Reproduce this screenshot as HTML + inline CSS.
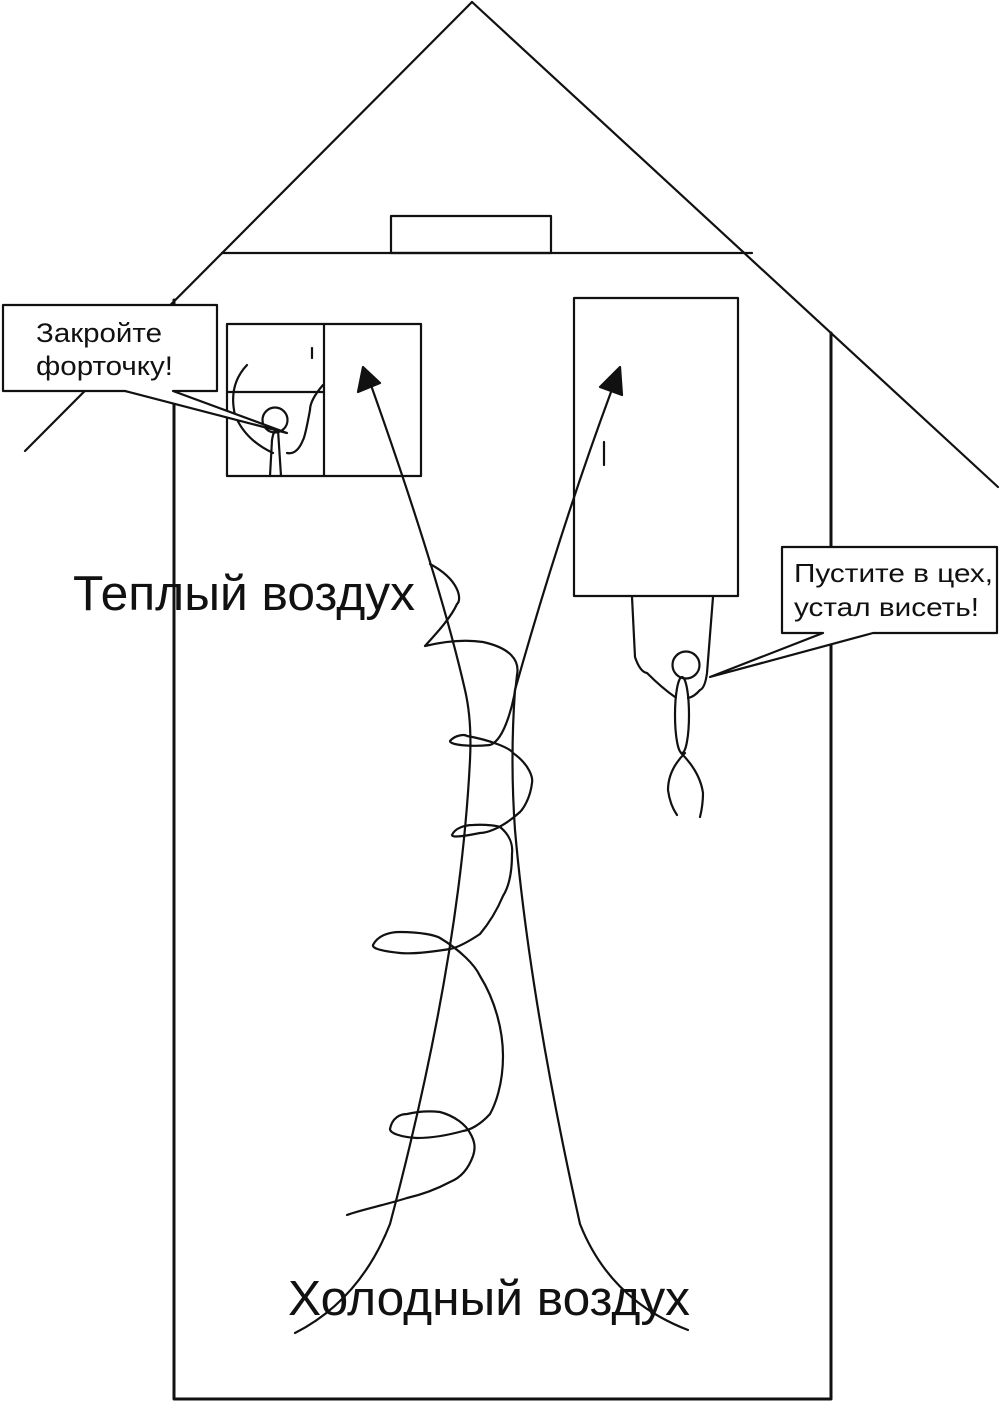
<!DOCTYPE html>
<html><head><meta charset="utf-8"><style>
html,body{margin:0;padding:0;background:#fff}
svg{display:block}
text{font-family:"Liberation Sans",Arial,sans-serif;fill:#111}
</style></head><body>
<svg width="1001" height="1401" viewBox="0 0 1001 1401" xmlns="http://www.w3.org/2000/svg">
<g fill="none" stroke="#111" stroke-width="2.2" stroke-linecap="round" stroke-linejoin="round">
<line x1="472" y1="2" x2="25" y2="451"/>
<line x1="472" y1="2" x2="998" y2="487"/>
<line x1="222" y1="253" x2="752" y2="253"/>
<rect x="391" y="216" width="160" height="37"/>
<polyline points="174,300 174,1399 831,1399 831,333" stroke-width="3"/>
<rect x="227" y="324" width="194" height="152"/>
<line x1="324" y1="324" x2="324" y2="476"/>
<line x1="227" y1="392" x2="324" y2="392"/>
<line x1="312" y1="348" x2="312" y2="358"/>
<rect x="574" y="298" width="164" height="298"/>
<line x1="604" y1="442" x2="604" y2="465"/>
<circle cx="275" cy="420" r="12.5" fill="#fff"/>
<path d="M270,476 L272,440 Q274,428 278,430 L281,476"/>
<path d="M247,365 Q228,385 235,415 Q245,440 273,453"/>
<path d="M323,385 Q310,400 310,410 Q305,437 303,440 Q297,455 287,453"/>
<path d="M632,597 L635,657 Q640,672 647,673 Q662,688 675,697"/>
<path d="M713,597 L707,673 Q705,688 700,690 Q694,697 688,698"/>
<circle cx="686" cy="665" r="13.5" fill="#fff"/>
<ellipse cx="682" cy="715" rx="7" ry="38"/>
<path d="M685,753 Q668,770 668,790 Q670,805 677,815"/>
<path d="M681,753 Q700,772 703,793 Q703,805 700,817"/>
<path d="M372,388 Q440,580 465,690 Q472,720 470,760 Q460,960 390,1224 Q360,1300 295,1333"/>
<polygon points="363,367 358,392 380,383" fill="#111"/>
<path d="M611,392 Q560,530 515,690 Q510,760 515,830 Q530,1000 580,1224 Q610,1300 688,1330"/>
<polygon points="620,367 600,387 622,395" fill="#111"/>
<path d="M430,564 C460,580 462,600 457,604 C450,620 430,640 425,646 C450,640 470,640 483,642 C510,648 520,660 517,675 C515,700 505,740 490,745 C470,747 450,745 450,741 C455,735 465,734 467,736 C490,740 510,748 513,753 C530,765 533,778 532,783 C530,800 522,810 520,812 C500,830 485,833 480,833 C465,836 452,838 452,835 C455,828 465,825 473,825 C485,824 498,826 500,827 C510,835 513,845 512,854 C512,875 508,888 503,896 C495,915 485,928 480,934 C465,944 455,948 450,949 C425,953 410,954 400,953 C380,951 372,948 373,945 C378,935 390,932 400,932 C420,932 435,935 440,938 C460,950 475,965 480,976 C495,1000 503,1030 503,1056 C503,1085 495,1105 490,1114 C480,1125 470,1130 463,1131 C445,1136 430,1138 417,1138 C400,1137 390,1133 390,1129 C392,1118 400,1114 407,1114 C420,1111 432,1111 440,1112 C455,1116 466,1125 470,1133 C476,1143 475,1150 473,1156 C468,1170 460,1178 450,1182 C435,1190 420,1195 407,1198 C385,1205 360,1210 347,1215"/>
<path d="M3,305 H217 V391 H173 L287,433 L125,391 H3 Z" fill="#fff"/>
<path d="M782,547 H997 V633 H873 L710,677 L823,633 H782 Z" fill="#fff"/>
</g>
<text x="36" y="342" font-size="27" textLength="126" lengthAdjust="spacingAndGlyphs">Закройте</text>
<text x="36" y="375" font-size="27" textLength="137" lengthAdjust="spacingAndGlyphs">форточку!</text>
<text x="794" y="582" font-size="26" textLength="199" lengthAdjust="spacingAndGlyphs">Пустите в цех,</text>
<text x="794" y="616" font-size="26" textLength="185" lengthAdjust="spacingAndGlyphs">устал висеть!</text>
<text x="73" y="610" font-size="49" textLength="342" lengthAdjust="spacingAndGlyphs">Теплый воздух</text>
<text x="288" y="1315" font-size="49" textLength="402" lengthAdjust="spacingAndGlyphs">Холодный воздух</text>
</svg>
</body></html>
